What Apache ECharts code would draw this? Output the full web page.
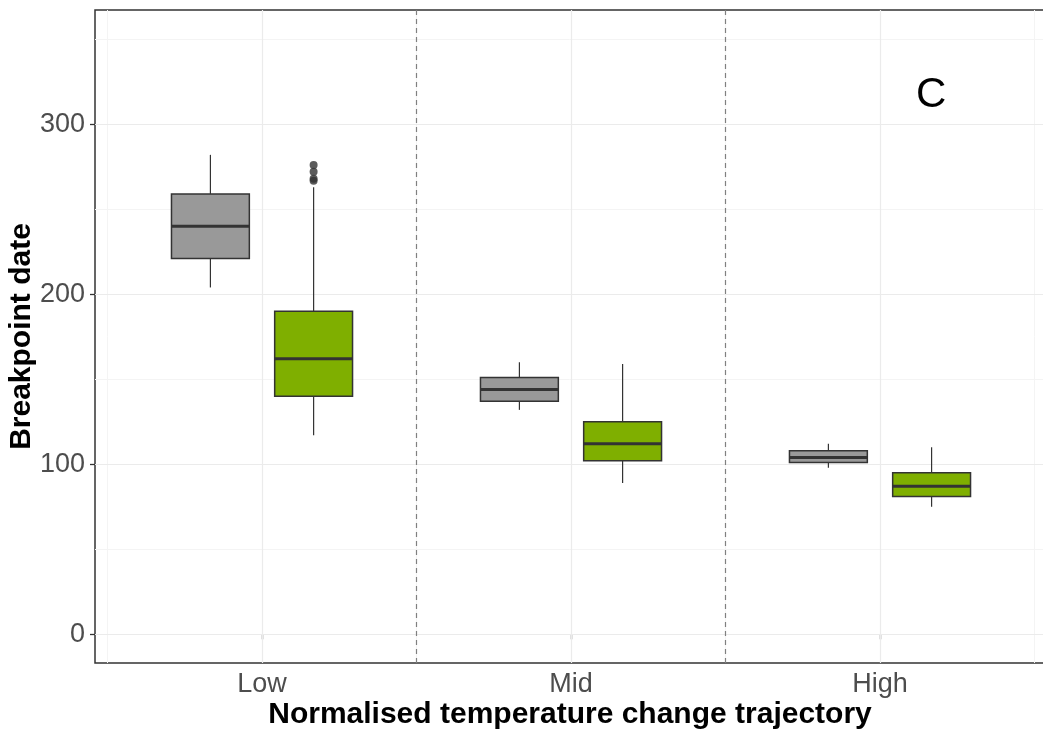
<!DOCTYPE html>
<html>
<head>
<meta charset="utf-8">
<script src="https://cdn.jsdelivr.net/npm/echarts@6/dist/echarts.min.js"></script>
<style>
  html, body { margin: 0; padding: 0; background: #fff; }
  #chart { width: 1043px; height: 730px; }
</style>
</head>
<body>
<div id="chart"></div>
<script>
// categories on the x axis
const trajectories = ['Low', 'Mid', 'High'];

// box stats per category: [min, Q1, median, Q3, max]
const greyBoxes = [
  [204, 221, 240, 259, 282],
  [132, 137, 144, 151, 160],
  [98, 101, 104, 108, 112]
];
const greenBoxes = [
  [117, 140, 162, 190, 263],
  [89, 102, 112, 125, 159],
  [75, 81, 87, 95, 110]
];
// outliers of the green box in the Low group
const greenOutliers = [266.7, 268, 272, 276];

const yTicks = [0, 100, 200, 300];
const yMinor = [50, 150, 250, 350];
const xTicks = [1, 2, 3];
const xMinor = [0.5, 1.5, 2.5, 3.5];
const separators = [1.5, 2.5];

const dodge = 0.167;
const boxWidth = 0.252;

const chart = echarts.init(document.getElementById('chart'));

function boxData(stats, side) {
  return stats.map((s, i) => [i + 1 + side * dodge].concat(s));
}

function renderBox(fill) {
  return function (params, api) {
    const x = api.value(0);
    const pMin = api.coord([x, api.value(1)]);
    const pQ1 = api.coord([x, api.value(2)]);
    const pMed = api.coord([x, api.value(3)]);
    const pQ3 = api.coord([x, api.value(4)]);
    const pMax = api.coord([x, api.value(5)]);
    const half = api.size([boxWidth, 0])[0] / 2;
    const cx = pMed[0];
    const stroke = { stroke: '#333333', lineWidth: 1.2 };
    return {
      type: 'group',
      children: [
        { type: 'line', shape: { x1: cx, y1: pMax[1], x2: cx, y2: pQ3[1] }, style: stroke },
        { type: 'line', shape: { x1: cx, y1: pQ1[1], x2: cx, y2: pMin[1] }, style: stroke },
        {
          type: 'rect',
          shape: { x: cx - half, y: pQ3[1], width: half * 2, height: pQ1[1] - pQ3[1] },
          style: { fill: fill, stroke: '#333333', lineWidth: 1.5 }
        },
        {
          type: 'line',
          shape: { x1: cx - half, y1: pMed[1], x2: cx + half, y2: pMed[1] },
          style: { stroke: '#333333', lineWidth: 3 }
        }
      ]
    };
  };
}

const majorGrid = { color: '#EBEBEB', width: 1.2, type: 'solid' };
const minorGrid = { color: '#F4F4F4', width: 1, type: 'solid' };

const option = {
  animation: false,
  backgroundColor: '#ffffff',
  grid: {
    left: 95, right: -2, top: 10, bottom: 67,
    outerBoundsMode: 'none',
    containLabel: false,
    show: true, borderColor: '#333333', borderWidth: 1.5, backgroundColor: 'transparent'
  },
  xAxis: {
    type: 'value',
    min: 0.4595,
    max: 3.534,
    name: 'Normalised temperature change trajectory',
    nameLocation: 'middle',
    nameGap: 37,
    nameMoveOverlap: false,
    nameTextStyle: { fontFamily: 'Liberation Sans', fontWeight: 'bold', fontSize: 30, color: '#000' },
    axisLine: { show: false },
    axisTick: { show: true, customValues: xTicks, length: 5, lineStyle: { color: '#333333', width: 1.3 } },
    axisLabel: {
      customValues: xTicks,
      formatter: v => trajectories[Math.round(v) - 1],
      fontFamily: 'Liberation Sans', fontSize: 27, color: '#4D4D4D', margin: 8
    },
    splitLine: { show: false }
  },
  yAxis: {
    type: 'value',
    min: -16.9,
    max: 367.2,
    name: 'Breakpoint date',
    nameLocation: 'middle',
    nameGap: 58,
    nameMoveOverlap: false,
    nameTextStyle: { fontFamily: 'Liberation Sans', fontWeight: 'bold', fontSize: 30, color: '#000' },
    axisLine: { show: false },
    axisTick: { show: true, customValues: yTicks, length: 5, lineStyle: { color: '#333333', width: 1.3 } },
    axisLabel: {
      customValues: yTicks,
      fontFamily: 'Liberation Sans', fontSize: 27, color: '#4D4D4D', margin: 10
    },
    splitLine: { show: false }
  },
  graphic: [{
    type: 'text', left: 916, top: 74,
    style: { text: 'C', fontFamily: 'Liberation Sans', fontSize: 42, fill: '#000' }
  }],
  series: [
    {
      type: 'line', data: [], z: 0, silent: true,
      markLine: {
        silent: true, symbol: 'none', label: { show: false }, animation: false, z: 1,
        data: [].concat(
          yMinor.map(v => ({ yAxis: v, lineStyle: minorGrid })),
          xMinor.map(v => ({ xAxis: v, lineStyle: minorGrid })),
          yTicks.map(v => ({ yAxis: v, lineStyle: majorGrid })),
          xTicks.map(v => ({ xAxis: v, lineStyle: majorGrid })),
          separators.map(v => ({ xAxis: v, lineStyle: { color: '#808080', width: 1.2, type: [5, 4] } }))
        )
      }
    },
    {
      name: 'grey', type: 'custom', z: 3,
      data: boxData(greyBoxes, -1),
      renderItem: renderBox('#999999'),
      encode: { x: 0, y: [1, 2, 3, 4, 5] }
    },
    {
      name: 'green', type: 'custom', z: 3,
      data: boxData(greenBoxes, 1),
      renderItem: renderBox('#7FAF00'),
      encode: { x: 0, y: [1, 2, 3, 4, 5] }
    },
    {
      name: 'outliers', type: 'scatter', z: 4,
      symbolSize: 8,
      itemStyle: { color: '#333333' },
      data: greenOutliers.map(v => [1 + dodge, v])
    }
  ]
};

chart.setOption(option);
</script>
</body>
</html>
